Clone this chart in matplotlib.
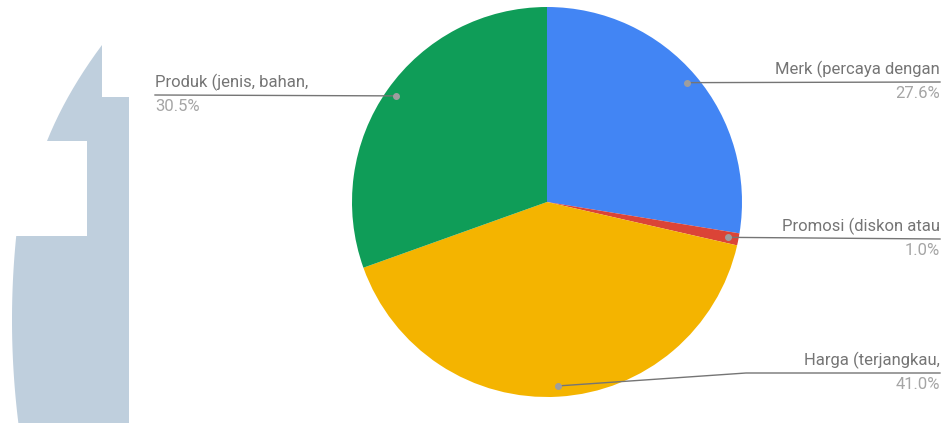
import numpy as np
import matplotlib.pyplot as plt
from matplotlib.patches import Polygon

plt.rcParams['font.family'] = ['Roboto', 'DejaVu Sans']

# ---------------- DATA ----------------
labels = ["Merk (percaya dengan", "Promosi (diskon atau", "Harga (terjangkau,", "Produk (jenis, bahan,"]
values = [27.6, 1.0, 41.0, 30.5]
colors = ["#4285f4", "#db4437", "#f4b400", "#0f9d58"]

W, H = 945, 423
fig = plt.figure(figsize=(W / 100, H / 100), dpi=100)
ax = fig.add_axes([0, 0, 1, 1])

# background shape on the left (pixel coords, y from the top)
curve_y = np.linspace(236, 423, 30)
curve_x = 12 + 6e-4 * (curve_y - 320) ** 2
t = np.linspace(0, 1, 12)
top_y = 45 + 96 * t
top_x = 102 - 55 * t * (1.3 - 0.3 * t)
shape = [(102, 45), (102, 97), (129, 97), (129, 423)]
shape += [(x, y) for x, y in zip(curve_x[::-1], curve_y[::-1])]
shape += [(18, 236), (87, 236), (87, 141)]
shape += [(x, y) for x, y in zip(top_x[::-1], top_y[::-1])]
ax.add_patch(Polygon([(x, H - y) for x, y in shape], closed=True,
                     facecolor="#bfcfdd", edgecolor="none", zorder=0))

# pie
cx, cy, R = 547, H - 202, 195
ax.pie(values, colors=colors, startangle=90, counterclock=False,
       center=(cx, cy), radius=R, wedgeprops=dict(linewidth=0))

ax.set_xlim(0, W)
ax.set_ylim(0, H)
ax.set_aspect("equal")
ax.axis("off")

# callouts
total = sum(values)
bounds = np.cumsum([0] + values) / total
mids = (bounds[:-1] + bounds[1:]) / 2
line_c = "#757575"
text_c = "#757575"
pct_c = "#a5a5a5"
line_y = [82, 239, 373, 95]
fs = 12
for i, (lab, v) in enumerate(zip(labels, values)):
    ang = np.deg2rad(90 - mids[i] * 360)
    dx, dy = cx + 0.945 * R * np.cos(ang), cy + 0.945 * R * np.sin(ang)
    ly = H - line_y[i]
    if i == 3:
        ax.plot([dx, 155], [dy, ly], color=line_c, lw=1, zorder=5)
        ax.text(155, ly + 4, lab, ha="left", va="bottom", fontsize=fs, color=text_c)
        ax.text(155, ly - 4, f"{v:.1f}%", ha="left", va="top", fontsize=fs, color=pct_c)
    else:
        if i == 2:
            xs, ys = [dx, 746, 940], [dy, ly, ly]
        else:
            xs, ys = [dx, 940], [dy, ly]
        ax.plot(xs, ys, color=line_c, lw=1, zorder=5)
        ax.text(940, ly + 4, lab, ha="right", va="bottom", fontsize=fs, color=text_c)
        ax.text(940, ly - 4, f"{v:.1f}%", ha="right", va="top", fontsize=fs, color=pct_c)
    ax.plot(dx, dy, "o", ms=4, color="#9e9e9e", zorder=6)

fig.savefig("out.png", dpi=100)
